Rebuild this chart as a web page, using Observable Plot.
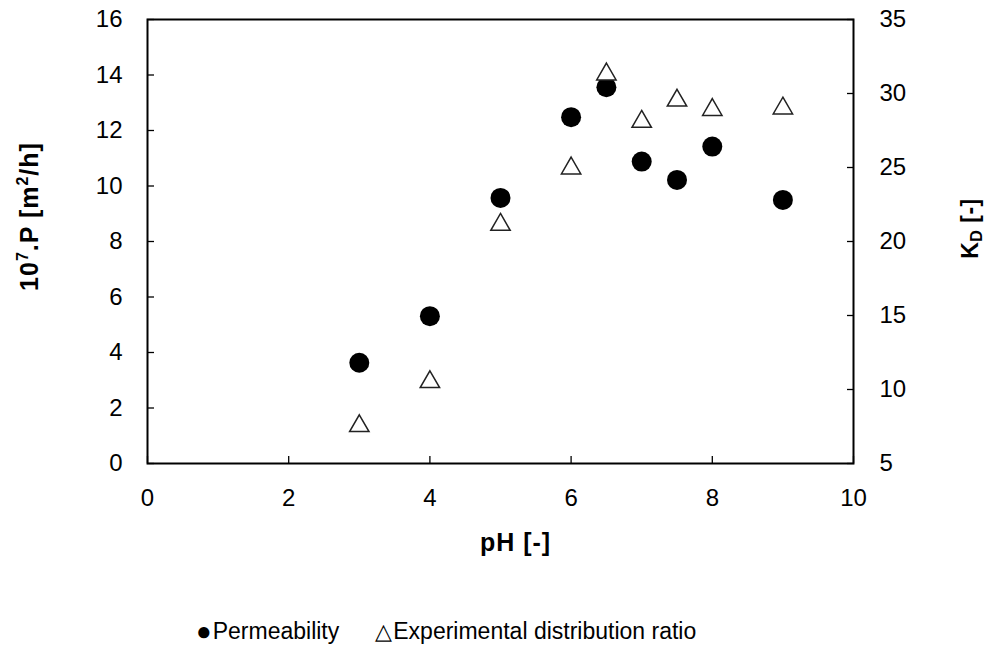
<!DOCTYPE html>
<html><head><meta charset="utf-8">
<script src="https://cdn.jsdelivr.net/npm/d3@7"></script>
<script src="https://cdn.jsdelivr.net/npm/@observablehq/plot@0.6"></script>
<style>
body{margin:0;background:#fff;font-family:"Liberation Sans",Arial,sans-serif;}
#wrap{position:relative;width:990px;height:650px;overflow:hidden;}
#wrap svg{display:block;}
#legend{position:absolute;left:196px;top:616px;font-size:23px;line-height:30px;color:#000;white-space:nowrap;}
#legend .item{display:inline-block;}
#legend .sym{display:inline-block;margin-right:1px;}
</style></head><body>
<div id="wrap"></div>
<script>
// ---- data ----
const pH = [3, 4, 5, 6, 6.5, 7, 7.5, 8, 9];
const permeability = [3.63, 5.31, 9.57, 12.48, 13.56, 10.88, 10.22, 11.42, 9.50];
const kdRatio = [7.74, 10.71, 21.34, 25.15, 31.5, 28.3, 29.73, 29.1, 29.2];
const xTicks = [0, 2, 4, 6, 8, 10];
const leftTicks = [0, 2, 4, 6, 8, 10, 12, 14, 16];
const rightTicks = [5, 10, 15, 20, 25, 30, 35];
const xTitle = "pH [-]";
const leftTitle = "10^7.P [m^2/h]";
const rightTitle = "K_D [-]";
const seriesNames = ["Permeability", "Experimental distribution ratio"];

// secondary axis mapping (KD 5..35 onto the primary 0..16 range)
const kdToP = d3.scaleLinear().domain([5, 35]).range([0, 16]);
const rows = pH.map((p, i) => ({pH: p, perm: permeability[i], kd: kdRatio[i]}));

const chart = Plot.plot({
  width: 990, height: 590,
  marginLeft: 147, marginRight: 137, marginTop: 19, marginBottom: 127,
  style: {fontFamily: '"Liberation Sans", Arial, sans-serif', fontSize: "24px", color: "#000", background: "#fff"},
  x: {domain: [0, 10]},
  y: {domain: [0, 16]},
  marks: [
    Plot.axisX({ticks: xTicks, tickSize: -7, tickPadding: 32, label: null, stroke: "#000", strokeWidth: 1.3}),
    Plot.axisY({ticks: leftTicks, anchor: "left", tickSize: -7, tickPadding: 32, label: null, stroke: "#000", strokeWidth: 1.3}),
    Plot.axisY({ticks: rightTicks.map(kdToP), anchor: "right", tickSize: -7, tickPadding: 33, label: null,
      tickFormat: d => String(Math.round(kdToP.invert(d))), stroke: "#000", strokeWidth: 1.3}),
    Plot.frame({stroke: "#000", strokeWidth: 2}),
    Plot.dot(rows, {x: "pH", y: "perm", r: 10, fill: "#000", stroke: "none"}),
    Plot.dot(rows, {x: "pH", y: d => kdToP(d.kd), symbol: "triangle", r: 7.2, fill: "#fff", stroke: "#222", strokeWidth: 1.5, dy: 3}),
    Plot.text([xTitle], {frameAnchor: "bottom", dx: 15, dy: 79, fontWeight: "bold", fontSize: 25, lineAnchor: "middle", textAnchor: "middle"}),
    Plot.text([leftTitle], {frameAnchor: "left", dx: -118, dy: -25, rotate: -90, fontWeight: "bold", fontSize: 25, lineAnchor: "middle", textAnchor: "middle"}),
    Plot.text([rightTitle], {frameAnchor: "right", dx: 117, dy: -13, rotate: -90, fontWeight: "bold", fontSize: 23, lineAnchor: "middle", textAnchor: "middle"})
  ]
});

// rich text: superscripts / subscript, slight widening like the original
d3.select(chart).selectAll("text").each(function () {
  const t = this.textContent;
  if (t === leftTitle) {
    this.innerHTML = '10<tspan dy="-10" font-size="16">7</tspan><tspan dy="10">.P [m</tspan><tspan dy="-10" font-size="16">2</tspan><tspan dy="10">/h]</tspan>';
    this.style.letterSpacing = "1px";
  } else if (t === rightTitle) {
    this.innerHTML = 'K<tspan dy="4" font-size="16">D</tspan><tspan dy="-4"> [-]</tspan>';
    this.style.letterSpacing = "0.5px";
  } else if (t === xTitle) {
    this.style.letterSpacing = "1px";
  }
});

const wrap = document.getElementById("wrap");
wrap.appendChild(chart);

const legend = document.createElement("div");
legend.id = "legend";
legend.innerHTML =
  '<span class="item"><span class="sym" style="font-size:26px;vertical-align:-1px">\u25CF</span>' + seriesNames[0] + '</span>' +
  '<span class="item" style="margin-left:36px"><span class="sym" style="font-size:22px">\u25B3</span>' + seriesNames[1] + '</span>';
wrap.appendChild(legend);
</script>
</body></html>
